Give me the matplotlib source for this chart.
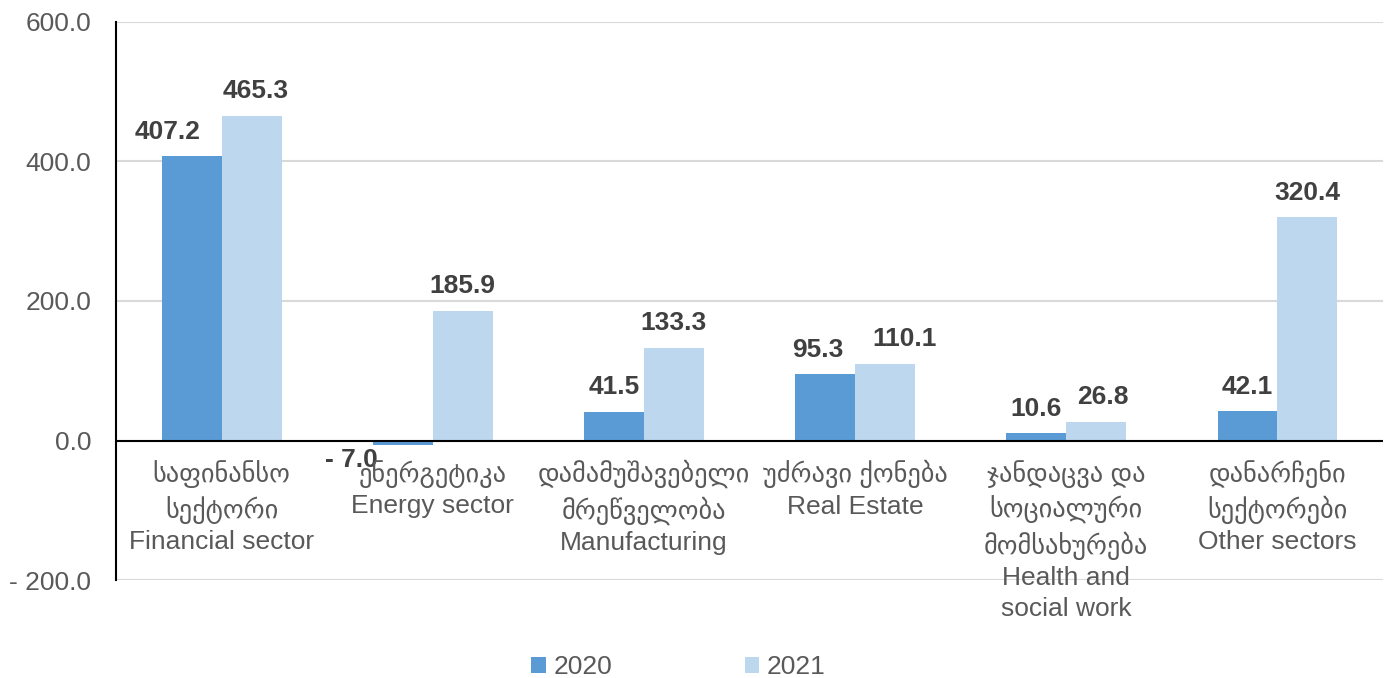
import matplotlib
matplotlib.use("Agg")
import matplotlib.pyplot as plt
import numpy as np

plt.rcParams['font.family'] = ['Liberation Sans', 'DejaVu Sans']

categories = [
    "საფინანსო\nსექტორი\nFinancial sector",
    "ენერგეტიკა\nEnergy sector",
    "დამამუშავებელი\nმრეწველობა\nManufacturing",
    "უძრავი ქონება\nReal Estate",
    "ჯანდაცვა და\nსოციალური\nმომსახურება\nHealth and\nsocial work",
    "დანარჩენი\nსექტორები\nOther sectors",
]
v2020 = [407.2, -7.0, 41.5, 95.3, 10.6, 42.1]
v2021 = [465.3, 185.9, 133.3, 110.1, 26.8, 320.4]
yticks = [-200, 0, 200, 400, 600]

c2020 = "#5B9BD5"
c2021 = "#BDD7EE"
gray = "#595959"

# small sideways nudges (points) of some value labels, as in the original
nudge2020 = {0: -17, 1: -37, 3: -5}
nudge2021 = {0: 3, 3: 14, 4: 5}


def fmt(v):
    if v < 0:
        return "- %.1f" % abs(v)
    return "%.1f" % v


fig = plt.figure(figsize=(13.85, 6.78), dpi=100)
ax = fig.add_axes([0.0838, 0.1445, 0.9148, 0.8231])

x = np.arange(len(categories))
w = 0.284
b1 = ax.bar(x - w / 2, v2020, w, color=c2020, label="2020", zorder=2)
b2 = ax.bar(x + w / 2, v2021, w, color=c2021, label="2021", zorder=2)

ax.set_xlim(-0.5, len(categories) - 0.5)
ax.set_ylim(-200, 600)
ax.set_yticks(yticks)
ax.set_yticklabels([fmt(t) for t in yticks], fontsize=19, color=gray)
ax.tick_params(axis='y', length=0, pad=18)
ax.set_xticks([])

ax.grid(axis='y', color="#D9D9D9", linewidth=1.5, zorder=0)
for s in ["top", "right", "bottom"]:
    ax.spines[s].set_visible(False)
ax.spines["left"].set_color("black")
ax.spines["left"].set_linewidth(1.5)
ax.axhline(0, color="black", linewidth=1.5, zorder=3)

# value labels
for bars, vals, nd in [(b1, v2020, nudge2020), (b2, v2021, nudge2021)]:
    for i, (r, v) in enumerate(zip(bars, vals)):
        cx = r.get_x() + r.get_width() / 2
        dx = nd.get(i, 0)
        if v >= 0:
            ax.annotate(fmt(v), (cx, v), xytext=(dx, 9), textcoords="offset points",
                        ha="center", va="bottom", fontsize=19, fontweight="bold",
                        color="#404040")
        else:
            ax.annotate(fmt(v), (cx, v), xytext=(dx, -2), textcoords="offset points",
                        ha="center", va="top", fontsize=19, fontweight="bold",
                        color="#404040")

# category labels under the zero line
for i, c in enumerate(categories):
    ax.annotate(c, (i, 0), xytext=(0, -14), textcoords="offset points",
                ha="center", va="top", fontsize=19, color=gray, linespacing=1.35)

fig.legend(handles=[b1, b2], labels=["2020", "2021"], loc="center",
           bbox_to_anchor=(0.49, 0.016), ncol=2, frameon=False, fontsize=19,
           handlelength=0.55, handleheight=0.55, handletextpad=0.3,
           columnspacing=5.0, labelcolor=gray)

fig.savefig("out.png", dpi=100)
